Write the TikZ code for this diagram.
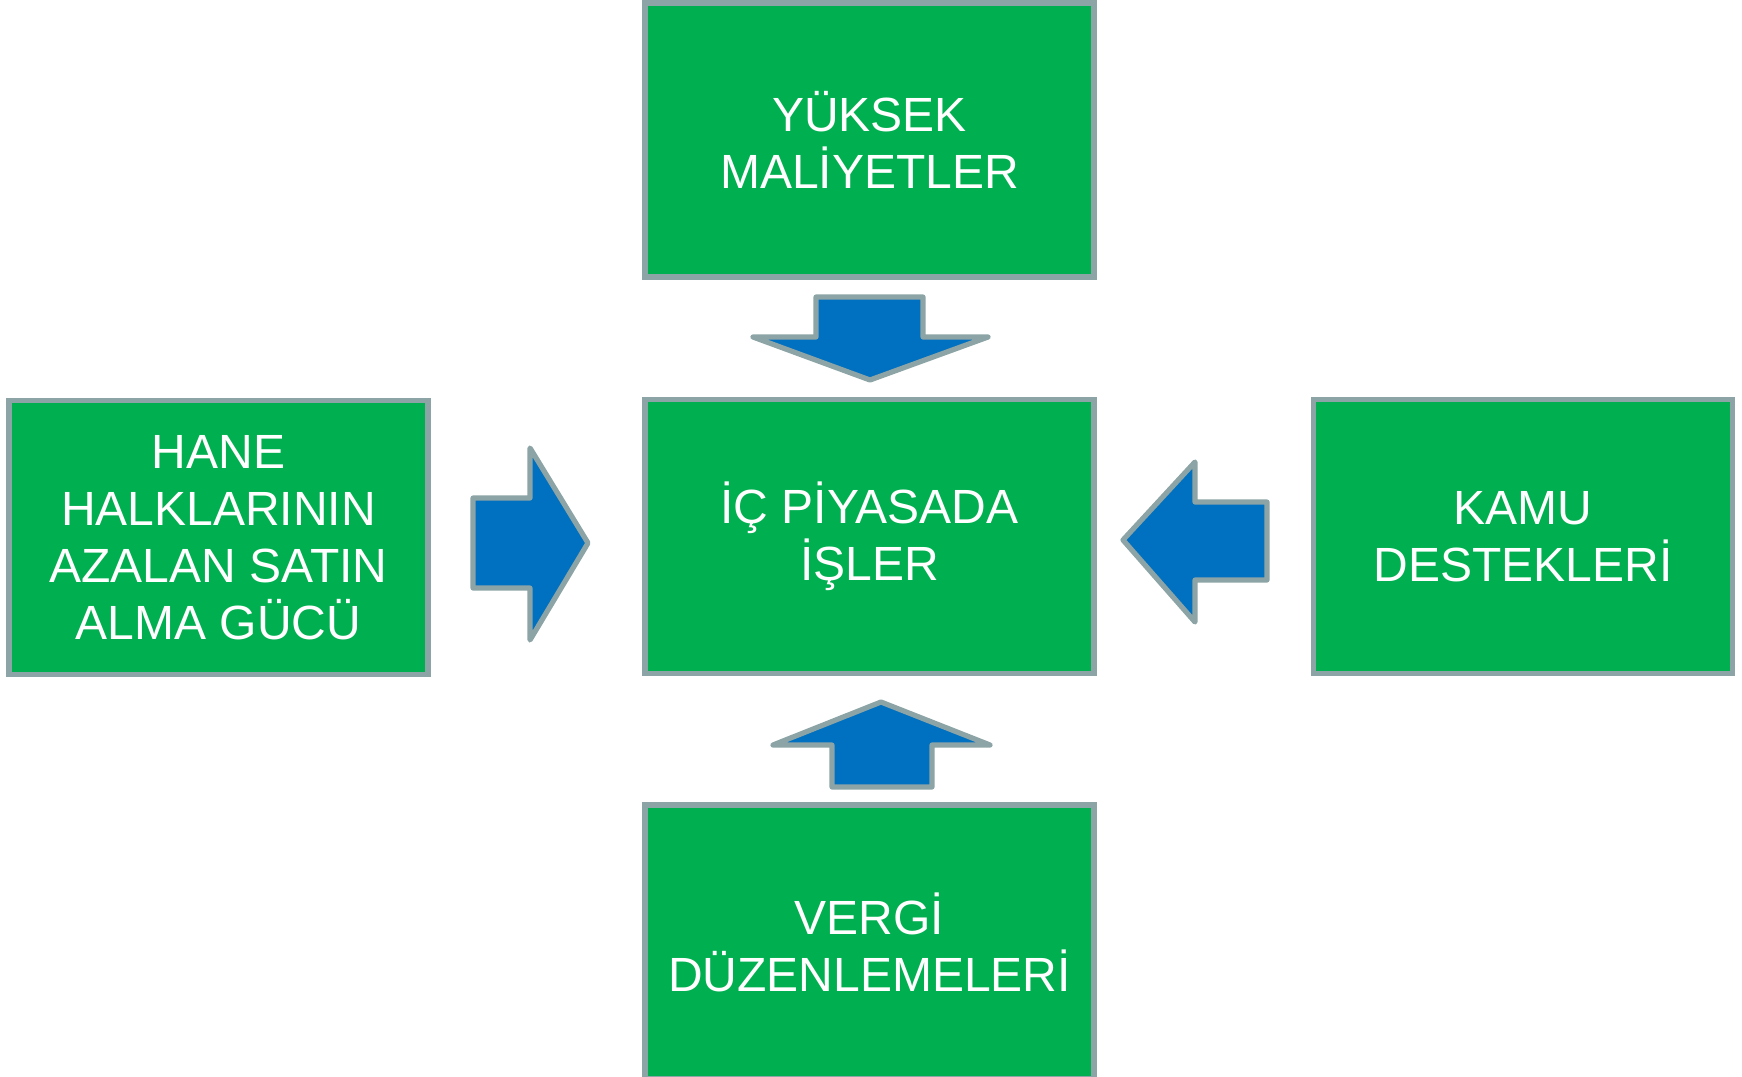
\documentclass[tikz,border=0pt]{standalone}
\usepackage{fontspec}
\setmainfont{Liberation Sans}
\definecolor{boxgreen}{RGB}{0,176,80}
\definecolor{arrowblue}{RGB}{0,112,192}
\definecolor{edgegray}{RGB}{140,164,165}

\begin{document}
\begin{tikzpicture}[x=0.5pt,y=-0.5pt]

\tikzstyle{cell}=[rectangle,draw=edgegray,fill=boxgreen,line width=2.6pt,text=white,align=center,font=\fontsize{24}{28.5}\selectfont,inner sep=0pt,minimum height=137pt]
\tikzstyle{wide}=[cell,minimum width=224.5pt]
\tikzstyle{side}=[cell,minimum width=209.5pt]
\tikzstyle{blockarrow}=[draw=edgegray,fill=arrowblue,line width=2.6pt,line join=round]

\useasboundingbox (0,0) rectangle (1742,1077);

\node[wide] (costs) at (869.5,140) {YÜKSEK\\MALİYETLER};
\node[wide] (market) at (869.5,536.5) {İÇ PİYASADA\\İŞLER};
\node[side] (income) at (218.5,537.5) {HANE\\HALKLARININ\\AZALAN SATIN\\ALMA GÜCÜ};
\node[side] (support) at (1523,536.5) {KAMU\\DESTEKLERİ};
\node[wide] (tax) at (869.5,942) {VERGİ\\DÜZENLEMELERİ};

% block arrows into the centre
\draw[blockarrow] (816,297) -- (923,297) -- (923,337) -- (988,337) -- (870,380) -- (753,337) -- (816,337) -- cycle;
\draw[blockarrow] (473,498) -- (530,498) -- (530,448) -- (588,543) -- (530,640) -- (530,588) -- (473,588) -- cycle;
\draw[blockarrow] (1267,502) -- (1195,502) -- (1195,462) -- (1123,540) -- (1195,622) -- (1195,580) -- (1267,580) -- cycle;
\draw[blockarrow] (832,787) -- (832,745) -- (773,745) -- (881,702) -- (990,745) -- (932,745) -- (932,787) -- cycle;
\end{tikzpicture}
\end{document}
